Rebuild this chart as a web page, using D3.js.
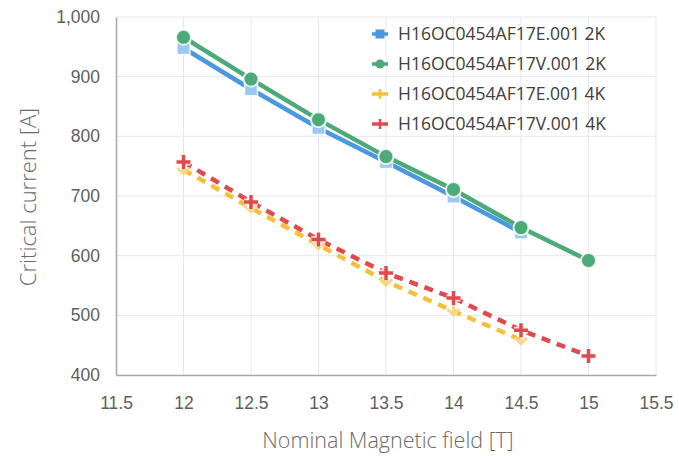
<!DOCTYPE html>
<html>
<head>
<meta charset="utf-8">
<script src="https://cdn.jsdelivr.net/npm/d3@7"></script>
<style>
  body { margin: 0; background: #fff; }
  svg { font-family: "Open Sans", "Noto Sans", sans-serif; }
  .tick text { fill: #5e5e5e; font-size: 17.5px; font-weight: 300; }
</style>
</head>
<body>
<svg width="679" height="456"></svg>
<script>
// field values [T]
const fields = [12, 12.5, 13, 13.5, 14, 14.5, 15]
const xTicks = [11.5, 12, 12.5, 13, 13.5, 14, 14.5, 15, 15.5]
const yTicks = [400, 500, 600, 700, 800, 900, 1000]

// critical current [A]
const e2k = [948, 879, 814, 757, 699, 639]
const v2k = [966, 896, 828, 766, 711, 647, 592]
const e4k = [744, 680, 618, 557, 507, 459]
const v4k = [757, 690, 627, 571, 529, 475, 432]

const seriesNames = ["H16OC0454AF17E.001 2K", "H16OC0454AF17V.001 2K", "H16OC0454AF17E.001 4K", "H16OC0454AF17V.001 4K"]

const series = [
  { name: seriesNames[0], values: e2k, color: "#4a98e0", mark: "#9cc8f0", shape: "square", dash: null },
  { name: seriesNames[1], values: v2k, color: "#4caa78", mark: "#4caa78", shape: "circle", dash: null },
  { name: seriesNames[2], values: e4k, color: "#f5bf3a", mark: "#f7d98a", shape: "chevron", dash: "9,7" },
  { name: seriesNames[3], values: v4k, color: "#e04a4e", mark: "#e04a4e", shape: "plus", dash: "9,7" }
]

const svg = d3.select("svg")
const x = d3.scaleLinear().domain([11.5, 15.5]).range([116, 656])
const y = d3.scaleLinear().domain([400, 1000]).range([375, 17])

// grid
svg.append("g").selectAll("line").data(xTicks.slice(1)).join("line")
  .attr("x1", d => x(d)).attr("x2", d => x(d))
  .attr("y1", y(400)).attr("y2", y(1000))
  .attr("stroke", "#e3e8ef").attr("stroke-width", 1)
svg.append("g").selectAll("line").data(yTicks.slice(1)).join("line")
  .attr("x1", x(11.5)).attr("x2", x(15.5))
  .attr("y1", d => y(d)).attr("y2", d => y(d))
  .attr("stroke", "#e3e8ef").attr("stroke-width", 1)

// axes
const xAxis = svg.append("g").attr("transform", `translate(0,${y(400)})`)
  .call(d3.axisBottom(x).tickValues(xTicks).tickSize(0).tickPadding(22).tickFormat(d3.format("")))
const yAxis = svg.append("g").attr("transform", `translate(${x(11.5)},0)`)
  .call(d3.axisLeft(y).tickValues(yTicks).tickSize(0).tickPadding(16).tickFormat(d3.format(",")))
xAxis.select(".domain").attr("stroke", "#a6a6a6").attr("stroke-width", 1.5)
yAxis.select(".domain").attr("stroke", "#a6a6a6").attr("stroke-width", 1.5)

svg.append("text")
  .attr("x", 388).attr("y", 448)
  .attr("text-anchor", "middle").attr("fill", "#6a6a6a").attr("font-size", 21.5).attr("font-weight", 300)
  .text("Nominal Magnetic field [T]")
svg.append("text")
  .attr("transform", "translate(36,197) rotate(-90)")
  .attr("text-anchor", "middle").attr("fill", "#6a6a6a").attr("font-size", 22).attr("font-weight", 300)
  .text("Critical current [A]")

const line = d3.line().x((d, i) => x(fields[i])).y(d => y(d))

// lines
svg.append("g").selectAll("path").data(series).join("path")
  .attr("d", s => line(s.values))
  .attr("fill", "none")
  .attr("stroke", s => s.color)
  .attr("stroke-width", 4.5)
  .attr("stroke-dasharray", s => s.dash)

const drawMark = (g, shape, fill, halo) => {
  if (shape === "circle") {
    g.append("circle").attr("r", 7.5).attr("fill", fill).attr("stroke", halo).attr("stroke-width", 2)
  } else if (shape === "square") {
    g.append("rect").attr("x", -6.5).attr("y", -6.5).attr("width", 13).attr("height", 13)
      .attr("fill", fill).attr("stroke", halo).attr("stroke-width", 1.5)
  } else if (shape === "plus") {
    g.append("path").attr("d", "M-7,0H7M0,-7V7").attr("stroke", halo).attr("stroke-width", 7)
    g.append("path").attr("d", "M-7,0H7M0,-7V7").attr("stroke", fill).attr("stroke-width", 3.5)
  } else {
    g.append("path").attr("d", "M-6,-2L0,4L6,-2M0,-6V4").attr("fill", "none").attr("stroke", fill).attr("stroke-width", 3)
  }
}

// markers, drawn in series order
series.forEach(s => {
  const g = svg.append("g")
  s.values.forEach((v, i) => {
    const m = g.append("g").attr("transform", `translate(${x(fields[i])},${y(v)})`)
    drawMark(m, s.shape, s.mark, "rgba(255,255,255,0.8)")
  })
})

// legend
const legend = svg.append("g").selectAll("g").data(series).join("g")
  .attr("transform", (s, i) => `translate(380,${34 + i * 30})`)
legend.append("line").attr("x1", -8).attr("x2", 8)
  .attr("stroke", s => s.color).attr("stroke-width", 3.5)
legend.each(function(s) {
  const g = d3.select(this)
  if (s.shape === "circle") g.append("circle").attr("r", 4.5).attr("fill", s.color)
  else if (s.shape === "square") g.append("rect").attr("x", -4.5).attr("y", -4.5).attr("width", 9).attr("height", 9).attr("fill", s.color)
  else g.append("path").attr("d", "M0,-5V5").attr("stroke", s.color).attr("stroke-width", 2.5)
})
legend.append("text").attr("x", 18).attr("dy", "0.35em")
  .attr("fill", "#404040").attr("font-size", 17.5)
  .text(s => s.name)
</script>
</body>
</html>
